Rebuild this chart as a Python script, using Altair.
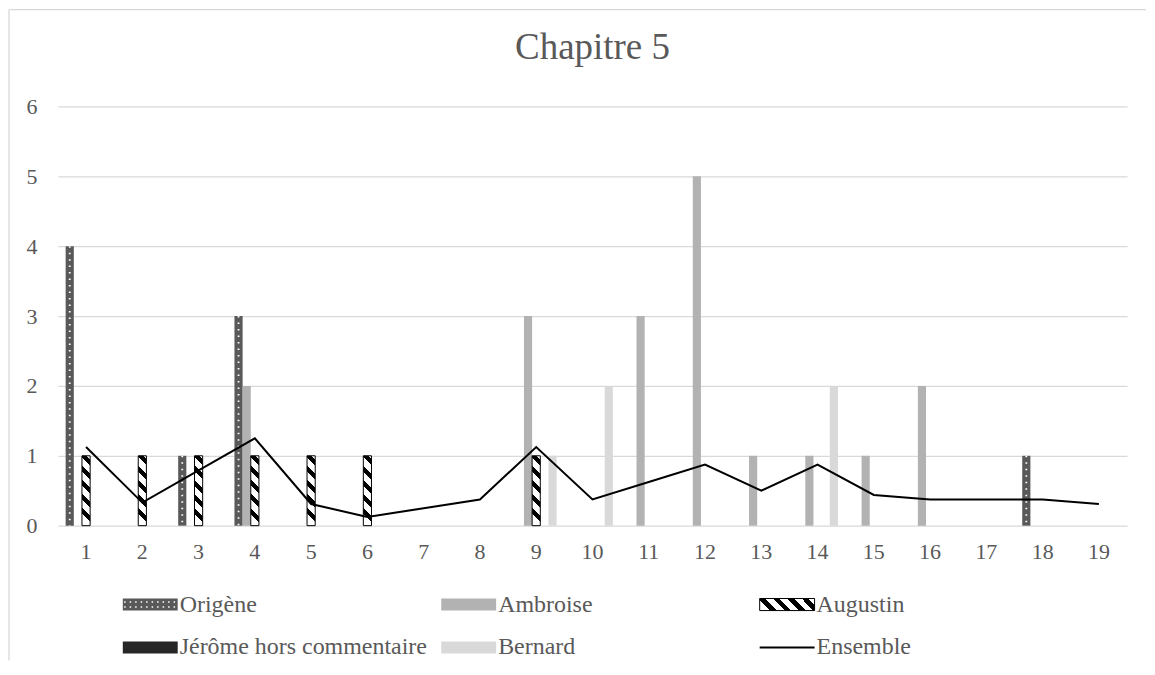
import altair as alt
import pandas as pd

# ---------------- data ----------------
categories = list(range(1, 20))
series_names = ["Origène", "Ambroise", "Augustin", "Jérôme hors commentaire", "Bernard"]
origene  = [4, 0, 1, 3, 0, 0, 0, 0, 0, 0, 0, 0, 0, 0, 0, 0, 0, 1, 0]
ambroise = [0, 0, 0, 2, 0, 0, 0, 0, 3, 0, 3, 5, 1, 1, 1, 2, 0, 0, 0]
augustin = [1, 1, 1, 1, 1, 1, 0, 0, 1, 0, 0, 0, 0, 0, 0, 0, 0, 0, 0]
jerome   = [0, 0, 0, 0, 0, 0, 0, 0, 0, 0, 0, 0, 0, 0, 0, 0, 0, 0, 0]
bernard  = [0, 0, 0, 0, 0, 0, 0, 0, 1, 2, 0, 0, 0, 2, 0, 0, 0, 0, 0]
ensemble = [1.125, 0.33, 0.79, 1.25, 0.31, 0.125, 0.25, 0.375, 1.125, 0.375,
            0.625, 0.875, 0.5, 0.875, 0.44, 0.375, 0.375, 0.375, 0.31]
legend_names = series_names + ["Ensemble"]
legend_cols = [0, 1, 2, 0, 1, 2]
legend_rows = [0, 0, 0, 1, 1, 1]
y_ticks = [0, 1, 2, 3, 4, 5, 6]

# ---------------- tables ----------------
series_values = [origene, ambroise, augustin, jerome, bernard]
rows = []
for name, vals in zip(series_names, series_values):
    for c, v in zip(categories, vals):
        rows.append({"cat": c, "series": name, "value": v})
df = pd.DataFrame(rows)
ens_df = pd.DataFrame({"cat": categories, "value": ensemble})
leg_df = pd.DataFrame({"series": legend_names, "col": legend_cols, "row": legend_rows})
one = pd.DataFrame({"a": [0]})

# ---------------- style ----------------
FONT = "Liberation Serif, Times New Roman, serif"
GREY = "#595959"
GRID = "#d9d9d9"
colors = ["#595959", "#b2b2b2", "#ffffff", "#262626", "#d9d9d9"]


def stripes(n, frac):
    s = []
    for k in range(n):
        a = k / n
        b = (k + frac) / n
        s += [{"offset": a, "color": "white"}, {"offset": a, "color": "black"},
              {"offset": b, "color": "black"}, {"offset": b, "color": "white"}]
    s.append({"offset": 1, "color": "white"})
    return s


kv = 0.1167
grad_v = {"gradient": "linear", "x1": 0.5 + kv / 2, "y1": 0, "x2": 0.5 - kv / 2, "y2": 1,
          "stops": stripes(5, 0.42)}
grad_h = {"gradient": "linear", "x1": 0, "y1": 0.109, "x2": 1, "y2": -0.109,
          "stops": stripes(4, 0.45)}

x_enc = alt.X("cat:O",
              scale=alt.Scale(paddingInner=0.275, paddingOuter=0.1375),
              axis=alt.Axis(title=None, labelAngle=0, labelFontSize=22, labelFont=FONT,
                            labelColor=GREY, ticks=False, tickSize=0, domain=False,
                            labelPadding=16, grid=False))
y_enc = alt.Y("value:Q", scale=alt.Scale(domain=[0, 6], nice=False),
              axis=alt.Axis(title=None, values=y_ticks, grid=True, gridColor=GRID,
                            gridWidth=1.3, ticks=False, tickSize=0, domain=False,
                            labelFontSize=22, labelFont=FONT, labelColor=GREY,
                            labelPadding=21))
xoff = alt.XOffset("series:N", scale=alt.Scale(domain=series_names, paddingInner=0, paddingOuter=0))
fill_enc = alt.Fill("series:N", scale=alt.Scale(domain=series_names, range=colors), legend=None)

bars = alt.Chart(df).transform_filter(
    "datum.value > 0 && datum.series != 'Augustin'"
).mark_bar().encode(x=x_enc, xOffset=xoff, y=y_enc, fill=fill_enc)

aug = alt.Chart(df).transform_filter(
    "datum.value > 0 && datum.series == 'Augustin'"
).mark_bar(fill=grad_v, stroke="black", strokeWidth=1).encode(x=x_enc, xOffset=xoff, y=y_enc)

dots = alt.Chart(df).transform_filter(
    "datum.value > 0 && datum.series == 'Origène'"
).mark_rule(color="white", strokeWidth=1.8, strokeDash=[1.5, 5]).encode(
    x=x_enc, xOffset=xoff, y=y_enc, y2=alt.datum(0))

line = alt.Chart(ens_df).mark_line(color="black", strokeWidth=2).encode(x=x_enc, y=y_enc)

main = alt.layer(bars, aug, dots, line)

# ---------------- legend ----------------
lx = alt.X("col:Q", scale=alt.Scale(domain=[0, 2], range=[65, 703]), axis=None)
ly = alt.Y("row:Q", scale=alt.Scale(domain=[0, 1], range=[499, 542]), axis=None)
rect_path = "M0,-0.22H2V0.22H0Z"
lbase = alt.Chart(leg_df)

sym = lbase.transform_filter(
    "datum.series != 'Augustin' && datum.series != 'Ensemble'"
).mark_point(shape=rect_path, size=3025, filled=True, opacity=1, strokeWidth=0).encode(
    x=lx, y=ly, fill=fill_enc)
sym_aug = lbase.transform_filter("datum.series == 'Augustin'").mark_point(
    shape=rect_path, size=3025, filled=True, fill=grad_h, stroke="black",
    strokeWidth=1, opacity=1).encode(x=lx, y=ly)
sym_dots = lbase.transform_filter("datum.series == 'Origène'").mark_point(
    shape="M0.05,-0.09H2M0.05,0.09H2", size=3025, filled=False, stroke="white",
    strokeWidth=1.5, strokeDash=[1.5, 4], opacity=1).encode(x=lx, y=ly)
sym_line = lbase.transform_filter("datum.series == 'Ensemble'").mark_point(
    shape="M0,0H2", size=3025, filled=False, stroke="black", strokeWidth=2,
    opacity=1).encode(x=lx, y=ly)
txt = lbase.mark_text(align="left", baseline="middle", dx=57, fontSize=24, font=FONT,
                      color=GREY).encode(x=lx, y=ly, text="series:N")
legend = alt.layer(sym, sym_aug, sym_dots, sym_line, txt)

# ---------------- chart frame ----------------
border_left = alt.Chart(one).mark_rule(color=GRID, strokeWidth=1.3).encode(
    x=alt.value(-49), y=alt.value(-97), y2=alt.value(555))
border_top = alt.Chart(one).mark_rule(color=GRID, strokeWidth=1.3).encode(
    x=alt.value(-49), x2=alt.value(1090), y=alt.value(-97))

chart = alt.layer(main, legend, border_left, border_top).resolve_scale(
    x="independent", y="independent"
).properties(
    width=1071, height=420, padding=0,
    title=alt.Title("Chapitre 5", fontSize=37, font=FONT, fontWeight="normal",
                    color=GREY, anchor="middle", offset=0, dy=76, baseline="middle"),
).configure_view(stroke=None)

chart.save("out.html", embed_options={"renderer": "svg", "actions": False})
